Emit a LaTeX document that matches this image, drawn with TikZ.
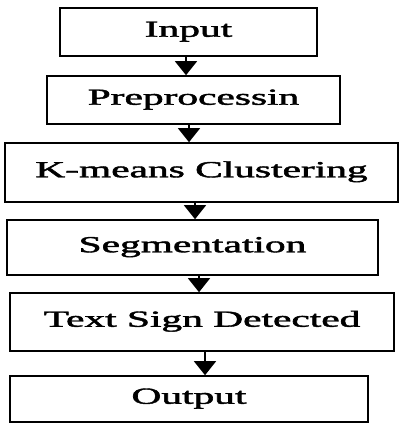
\documentclass[tikz,border=0pt]{standalone}
\usepackage{fontspec}
\usepackage{graphicx}
\setmainfont{Liberation Serif}
\newfontfamily\stagefont[FakeBold=1.6]{Liberation Serif}
\usetikzlibrary{arrows.meta}

\newcommand{\widetext}[1]{\scalebox{1.8}[1]{#1}}

\tikzset{
    stage/.style={draw, line width=1.6pt, inner sep=0pt,
        font=\stagefont\fontsize{23}{26}\selectfont,
        text height=15pt, text depth=5.5pt},
    flow/.style={-{Triangle[width=22pt,length=14pt]}, line width=1.5pt}
}

\begin{document}
\begin{tikzpicture}[x=1pt,y=-1pt]
    \useasboundingbox (0,0) rectangle (404,425);

    \node[stage, minimum width=257, minimum height=48] (input)  at (188.5,32)  {\widetext{Input}};
    \node[stage, minimum width=293, minimum height=48] (prep)   at (193.5,100) {\widetext{Preprocessin}};
    \node[stage, minimum width=393, minimum height=59] (kmeans) at (201.5,172.5) {\widetext{K-means Clustering}};
    \node[stage, minimum width=371, minimum height=55] (seg)    at (192.5,247.5) {\widetext{Segmentation}};
    \node[stage, minimum width=384, minimum height=58] (detect) at (202,322)   {\widetext{Text Sign Detected}};
    \node[stage, minimum width=358, minimum height=46] (output) at (189,399)   {\widetext{Output}};

    \draw[flow] ([xshift=-2.5]input.south)  -- ([xshift=-2.5]input.south |- prep.north);
    \draw[flow] ([xshift=-4.5]prep.south)   -- ([xshift=-4.5]prep.south |- kmeans.north);
    \draw[flow] ([xshift=-6.5]kmeans.south) -- ([xshift=-6.5]kmeans.south |- seg.north);
    \draw[flow] ([xshift=6.5]seg.south)     -- ([xshift=6.5]seg.south |- detect.north);
    \draw[flow] ([xshift=3]detect.south)    -- ([xshift=3]detect.south |- output.north);
\end{tikzpicture}
\end{document}
